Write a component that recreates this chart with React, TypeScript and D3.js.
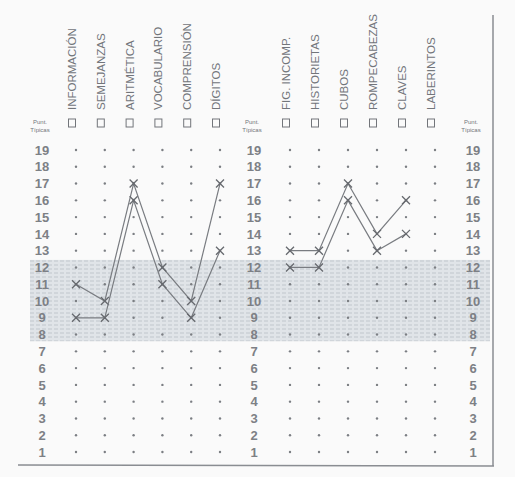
import React from "react";
import * as d3 from "d3";

const verbalTests = ["INFORMACIÓN", "SEMEJANZAS", "ARITMÉTICA", "VOCABULARIO", "COMPRENSIÓN", "DÍGITOS"];
const perfTests = ["FIG. INCOMP.", "HISTORIETAS", "CUBOS", "ROMPECABEZAS", "CLAVES", "LABERINTOS"];
const scoreTicks = d3.range(1, 20);

// two profiles (scaled scores)
const verbalA = [11, 10, 17, 12, 10, 17];
const verbalB = [9, 9, 16, 11, 9, 13];
const perfA = [13, 13, 17, 14, 16];
const perfB = [12, 12, 16, 13, 14];

const bandRange = [7.6, 12.45];

const W = 515, H = 477;

export default function App() {
  const y = d3.scaleLinear().domain([1, 19]).range([452, 150]);
  const xL = d3.scalePoint<string>().domain(verbalTests).range([76, 220]);
  const xR = d3.scalePoint<string>().domain(perfTests).range([290, 435]);
  const axisX = [42, 254, 473];
  const ink = "#72757a";

  const line = (xs: d3.ScalePoint<string>, cats: string[]) =>
    d3.line<number>().x((_, i) => xs(cats[i])!).y((v) => y(v));

  const cross = (cx: number, cy: number, k: string) => (
    <path key={k} d={`M${cx - 4},${cy - 4}L${cx + 4},${cy + 4}M${cx + 4},${cy - 4}L${cx - 4},${cy + 4}`} stroke="#66696e" strokeWidth={1.3} />
  );

  const series = [
    { xs: xL, cats: verbalTests, vals: verbalA },
    { xs: xL, cats: verbalTests, vals: verbalB },
    { xs: xR, cats: perfTests, vals: perfA },
    { xs: xR, cats: perfTests, vals: perfB },
  ];

  const header = (xs: d3.ScalePoint<string>, cats: string[], key: string) =>
    cats.map((c) => {
      const cx = xs(c)! - 4;
      return (
        <g key={key + c}>
          <rect x={cx - 3.5} y={119} width={7} height={8} fill="none" stroke={ink} strokeWidth={1} />
          <text
            transform={`translate(${cx + 4},${110}) rotate(-90)`}
            fontSize={11.5}
            fontFamily="Liberation Sans, Arial, sans-serif"
            fill={ink}
          >
            {c}
          </text>
        </g>
      );
    });

  return (
    <svg width={W} height={H} style={{ position: "absolute", left: 0, top: 0, background: "#fafafa" }}>
      <defs>
        <pattern id="hatch" width="6" height="4" patternUnits="userSpaceOnUse">
          <rect width="6" height="4" fill="#e0e4e8" />
          <line x1="0" y1="1" x2="4" y2="1" stroke="#c0c6cc" strokeWidth="1" />
        </pattern>
      </defs>
      <rect width={W} height={H} fill="#fafafa" />
      {/* shaded normal band */}
      <rect x={30} y={y(bandRange[1])} width={460} height={y(bandRange[0]) - y(bandRange[1])} fill="url(#hatch)" />

      {/* frame */}
      <line x1={493} y1={15} x2={493} y2={466} stroke="#8a8d92" strokeWidth={1.5} />
      <line x1={18} y1={465} x2={494} y2={466} stroke="#8a8d92" strokeWidth={1.5} />

      {header(xL, verbalTests, "l")}
      {header(xR, perfTests, "r")}

      {axisX.map((ax, i) => (
        <g key={"pt" + i} fill={ink} fontFamily="Liberation Sans, Arial, sans-serif" fontSize={6} textAnchor="middle">
          <text x={ax - 2} y={124}>Punt.</text>
          <text x={ax - 2} y={132}>Típicas</text>
        </g>
      ))}

      {axisX.map((ax, i) =>
        scoreTicks.map((t) => (
          <text
            key={`n${i}-${t}`}
            x={ax}
            y={y(t)}
            dy="0.36em"
            textAnchor="middle"
            fontSize={13}
            fontWeight="bold"
            fontFamily="Liberation Sans, Arial, sans-serif"
            fill="#7d8085"
          >
            {t}
          </text>
        ))
      )}

      {[...verbalTests.map((c) => xL(c)!), ...perfTests.map((c) => xR(c)!)].map((cx, j) =>
        scoreTicks.map((t) => <circle key={`d${j}-${t}`} cx={cx} cy={y(t)} r={1.2} fill="#7b7e83" />)
      )}

      {series.map((s, i) => (
        <g key={"s" + i}>
          <path d={line(s.xs, s.cats)(s.vals)!} fill="none" stroke="#797c81" strokeWidth={1.2} />
          {s.vals.map((v, j) => cross(s.xs(s.cats[j])!, y(v), `c${i}-${j}`))}
        </g>
      ))}
    </svg>
  );
}
